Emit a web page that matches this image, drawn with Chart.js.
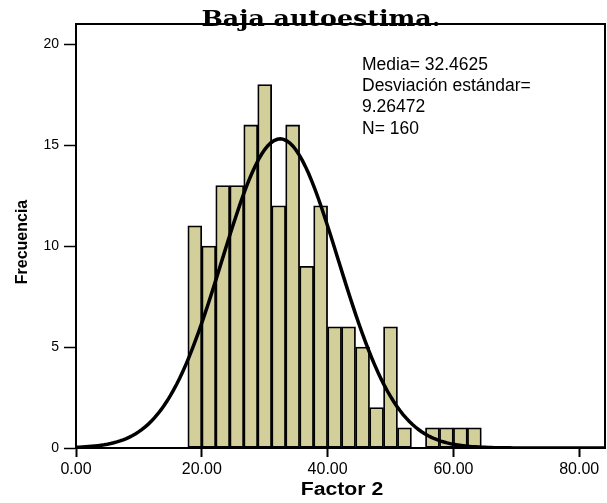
<!DOCTYPE html>
<html>
<head>
<meta charset="utf-8">
<script src="https://cdn.jsdelivr.net/npm/chart.js@4.4.1/dist/chart.umd.min.js"></script>
<style>
  html, body { margin: 0; padding: 0; background: #fff; }
  #wrap { width: 607px; height: 503px; position: relative; }
</style>
</head>
<body>
<div id="wrap"><canvas id="hist"></canvas></div>
<script>
  // histogram bins (Factor 2), width 20/9
  const binCenters = [18.89, 21.11, 23.33, 25.56, 27.78, 30.00, 32.22, 34.44, 36.67, 38.89,
                      41.11, 43.33, 45.56, 47.78, 50.00, 52.22, 54.44, 56.67, 58.89, 61.11, 63.33];
  const counts = [11, 10, 13, 13, 16, 18, 12, 16, 9, 12,
                  6, 6, 5, 2, 6, 1, 0, 1, 1, 1, 1];
  const xTicks = [0, 20, 40, 60, 80];
  const yTicks = [0, 5, 10, 15, 20];

  // stats shown on the chart
  const media = 32.4625;
  const desv = 9.26472;
  const n = 160;
  const binWidth = 20 / 9;
  const statLines = ['Media= 32.4625', 'Desviación estándar=', '9.26472', 'N= 160'];

  // normal curve fitted with the stats above (what SPSS draws)
  const curve = [];
  for (let x = 0; x <= 84.1; x += 0.5) {
    const z = (x - media) / desv;
    curve.push({ x: x, y: n * binWidth * Math.exp(-0.5 * z * z) / (desv * Math.sqrt(2 * Math.PI)) });
  }

  const barData = binCenters.map((c, i) => ({ x: c, y: counts[i] }));

  // text a bit wider than the font, like the original picture
  function wideText(c, txt, x, y, sx) {
    c.save();
    c.translate(x, y);
    c.scale(sx, 1);
    c.fillText(txt, 0, 0);
    c.restore();
  }

  const decor = {
    id: 'decor',
    afterDraw(chart) {
      const c = chart.ctx;
      const a = chart.chartArea;
      c.save();
      c.strokeStyle = '#000';
      c.lineWidth = 2;
      c.beginPath();
      c.moveTo(a.left, a.top);
      c.lineTo(a.right, a.top);
      c.lineTo(a.right, a.bottom);
      c.stroke();

      c.fillStyle = '#000';
      c.font = 'bold 22px "DejaVu Serif"';
      c.textAlign = 'center';
      c.textBaseline = 'alphabetic';
      wideText(c, 'Baja autoestima.', 321, 26, 1.15);

      c.font = '17.5px "Liberation Sans", Arial';
      c.textAlign = 'left';
      c.textBaseline = 'middle';
      statLines.forEach((s, i) => c.fillText(s, 362, 65 + i * 21.3));

      c.font = 'bold 18px "Liberation Sans", Arial';
      c.textAlign = 'center';
      wideText(c, 'Factor 2', 342, 490, 1.18);

      c.translate(23, 242);
      c.rotate(-Math.PI / 2);
      c.font = 'bold 16px "Liberation Sans", Arial';
      c.fillText('Frecuencia', 0, 0);
      c.restore();
    }
  };

  new Chart(document.getElementById('hist'), {
    type: 'bar',
    data: {
      datasets: [{
        type: 'line',
        data: curve,
        borderColor: '#000',
        borderWidth: 3.5,
        pointRadius: 0,
        tension: 0,
        order: 0
      }, {
        type: 'bar',
        data: barData,
        backgroundColor: '#d3cf9a',
        borderColor: '#000',
        borderWidth: 1.8,
        borderSkipped: false,
        barPercentage: 1,
        categoryPercentage: 1,
        order: 1
      }]
    },
    options: {
      responsive: true,
      maintainAspectRatio: false,
      animation: false,
      layout: { padding: { top: 24, right: 2, left: 0, bottom: 0 } },
      plugins: { legend: { display: false }, tooltip: { enabled: false } },
      scales: {
        x: {
          type: 'linear',
          min: 0,
          max: 84.1,
          offset: false,
          afterBuildTicks: s => { s.ticks = xTicks.map(v => ({ value: v })); },
          afterFit: s => { s.height = 55; },
          grid: { offset: false, drawOnChartArea: false, tickLength: 9, tickWidth: 2, tickColor: '#000' },
          border: { color: '#000', width: 2 },
          ticks: {
            color: '#000', padding: 3, maxRotation: 0,
            font: { family: '"Liberation Sans", Arial', size: 16 },
            callback: v => Number(v).toFixed(2)
          }
        },
        y: {
          min: 0,
          max: 21,
          afterBuildTicks: s => { s.ticks = yTicks.map(v => ({ value: v })); },
          afterFit: s => { s.width = 76; },
          grid: { drawOnChartArea: false, tickLength: 12, tickWidth: 1.5, tickColor: '#000' },
          border: { color: '#000', width: 2 },
          ticks: {
            color: '#000', padding: 5,
            font: { family: '"Liberation Sans", Arial', size: 14 }
          }
        }
      }
    },
    plugins: [decor]
  });
</script>
</body>
</html>
